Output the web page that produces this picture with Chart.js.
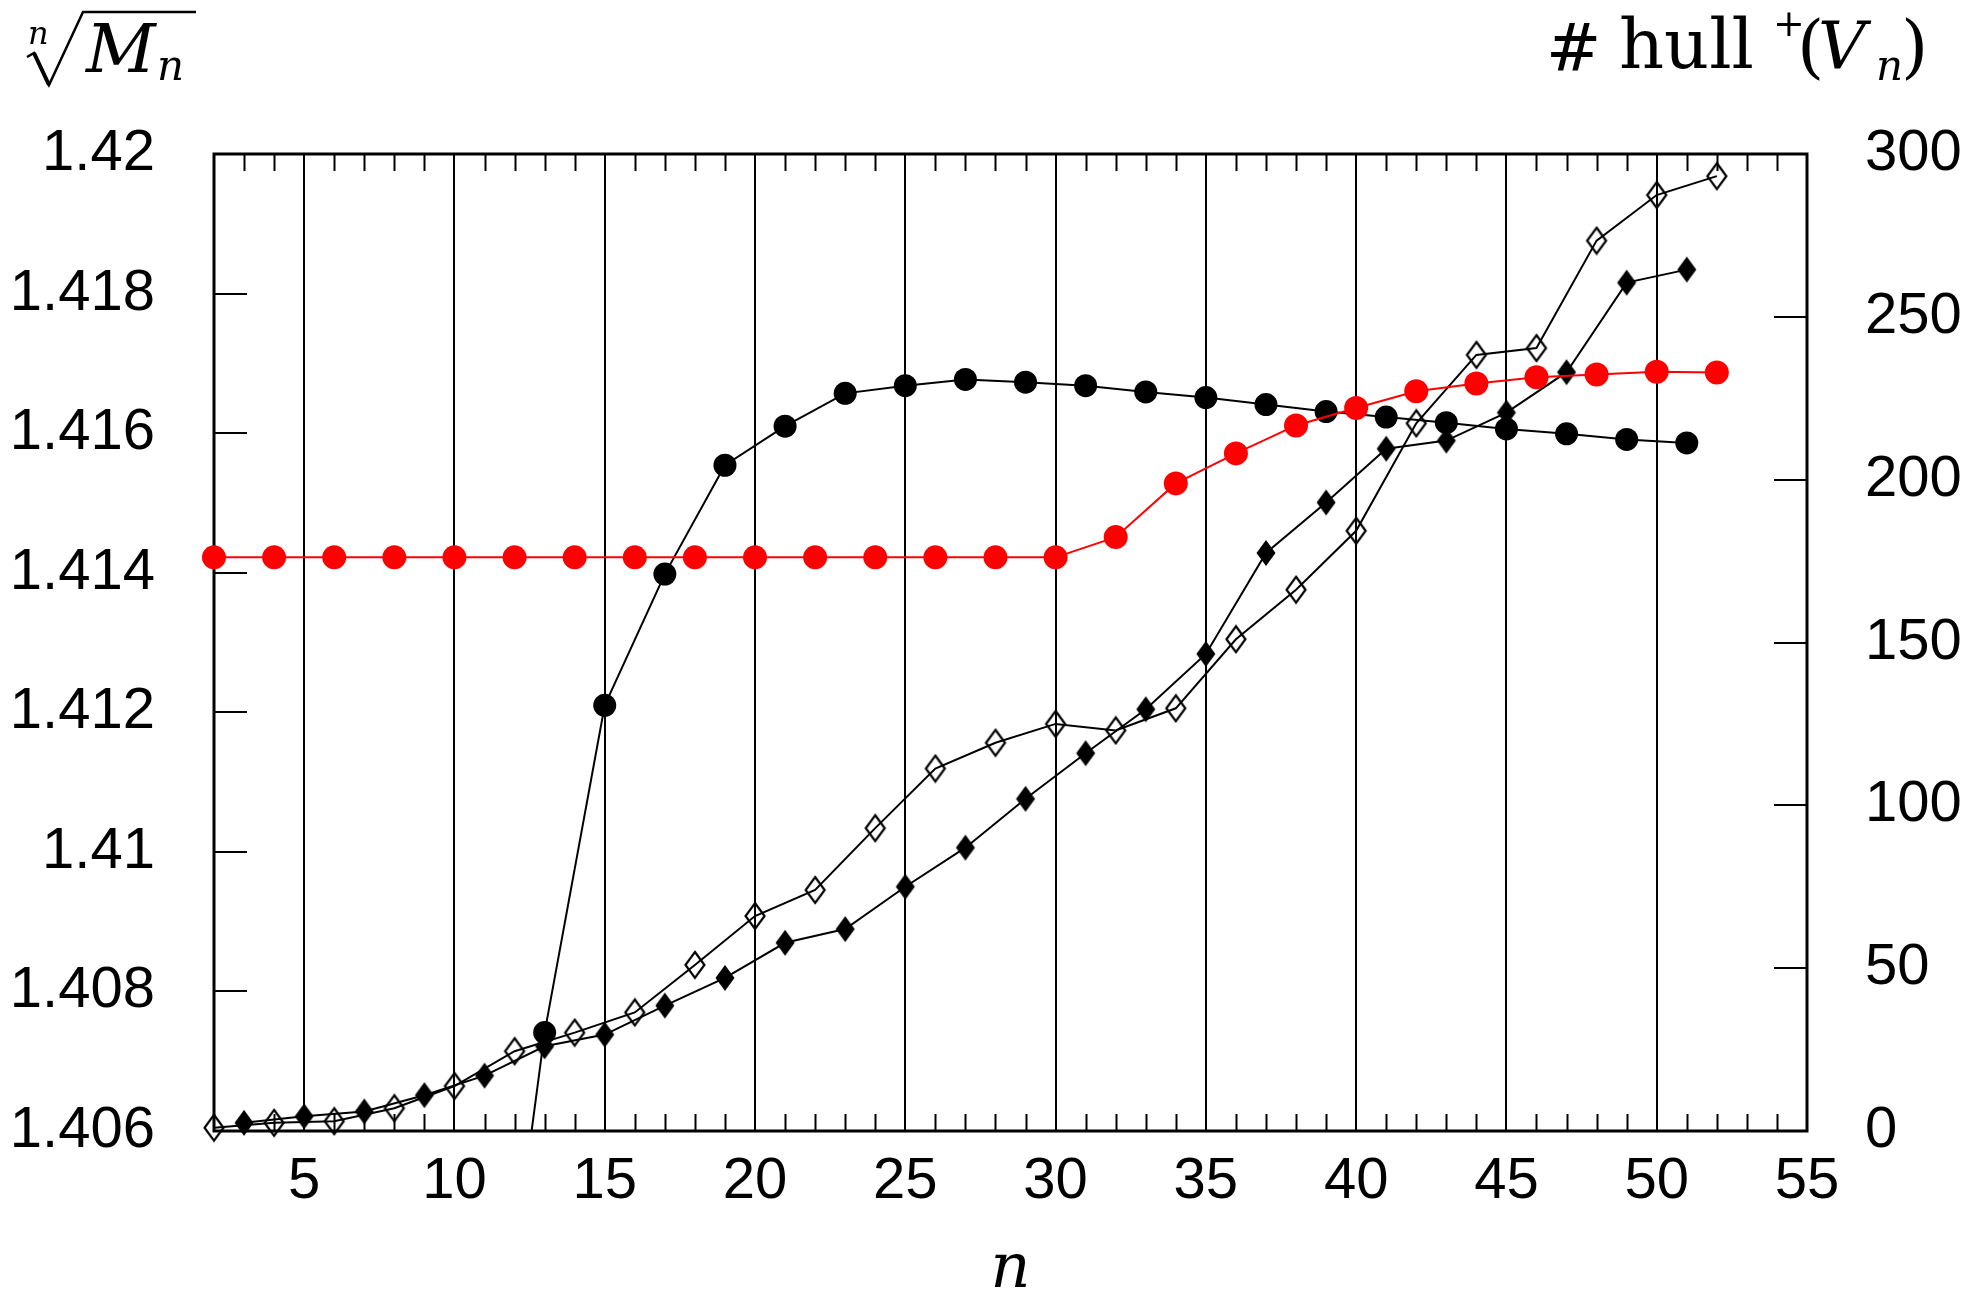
<!DOCTYPE html>
<html>
<head>
<meta charset="utf-8">
<script src="https://cdn.jsdelivr.net/npm/chart.js@4.4.0/dist/chart.umd.min.js"></script>
<style>
  html, body { margin: 0; padding: 0; background: #fff; }
  #wrap { width: 1977px; height: 1292px; }
</style>
</head>
<body>
<div id="wrap"><canvas id="chart" width="1977" height="1292"></canvas></div>
<script>
// n-th root of M_n (black circles, left axis); n = 11 lies below the axis and is clipped
const rootN = [11, 13, 15, 17, 19, 21, 23, 25, 27, 29, 31, 33, 35, 37, 39, 41, 43, 45, 47, 49, 51];
const rootMn = [1.4009, 1.40741, 1.41210, 1.41398, 1.41554, 1.41610, 1.41657, 1.41668, 1.41677, 1.41673,
                1.41668, 1.41659, 1.41651, 1.41641, 1.41631, 1.41623, 1.41615, 1.41606, 1.41599, 1.41591, 1.41586];

// red series (left axis)
const redN = [2, 4, 6, 8, 10, 12, 14, 16, 18, 20, 22, 24, 26, 28, 30, 32, 34, 36, 38, 40, 42, 44, 46, 48, 50, 52];
const redVals = [1.41422, 1.41422, 1.41422, 1.41422, 1.41422, 1.41422, 1.41422, 1.41422, 1.41422, 1.41422,
                 1.41422, 1.41422, 1.41422, 1.41422, 1.41422, 1.41451, 1.41528, 1.41571, 1.41611, 1.41636,
                 1.41660, 1.41671, 1.41680, 1.41684, 1.41688, 1.41687];

// #hull+(V_n), filled diamonds (right axis)
const hullOddN = [3, 5, 7, 9, 11, 13, 15, 17, 19, 21, 23, 25, 27, 29, 31, 33, 35, 37, 39, 41, 43, 45, 47, 49, 51];
const hullOdd = [2.5, 4.5, 6, 11, 17, 26, 29.6, 38.5, 47, 57.8, 62, 75, 87, 102, 116, 129.5, 146.5, 177.5, 193, 209.5, 212, 220.6, 233, 260.5, 264.5];

// #hull+(V_n), open diamonds (right axis)
const hullEvenN = [2, 4, 6, 8, 10, 12, 14, 16, 18, 20, 22, 24, 26, 28, 30, 32, 34, 36, 38, 40, 42, 44, 46, 48, 50, 52];
const hullEven = [1, 2.5, 3, 7, 13.8, 24.5, 30.2, 36.4, 51, 66, 74, 93, 111.3, 119.2, 125, 123, 129.8, 151, 166.2, 184.3, 217.3, 238.3, 240.4, 273.4, 287.4, 293.2];

const xTicks = [5, 10, 15, 20, 25, 30, 35, 40, 45, 50, 55];
const leftTicks = [1.406, 1.408, 1.41, 1.412, 1.414, 1.416, 1.418, 1.42];
const rightTicks = [0, 50, 100, 150, 200, 250, 300];

const tickFont = { family: 'Liberation Sans', size: 58 };
const serif = '"DejaVu Serif"';

function diamond(filled) {
  const c = document.createElement('canvas');
  c.width = 24; c.height = 30;
  const g = c.getContext('2d');
  g.beginPath();
  g.moveTo(12, 2); g.lineTo(21.5, 15); g.lineTo(12, 28); g.lineTo(2.5, 15); g.closePath();
  if (filled) { g.fillStyle = '#000'; g.fill(); }
  else { g.strokeStyle = '#000'; g.lineWidth = 2.2; g.stroke(); }
  return c;
}

const pts = (xs, ys) => xs.map((x, i) => ({ x: x, y: ys[i] }));

const framePlugin = {
  id: 'frame',
  beforeDatasetsDraw(chart) {
    const { ctx, chartArea: a, scales } = chart;
    ctx.save();
    ctx.strokeStyle = '#000';
    ctx.lineWidth = 2;
    ctx.beginPath();
    for (let n = 3; n < 55; n++) {
      if (n % 5 === 0) continue;
      const px = Math.round(scales.x.getPixelForValue(n)) + 0.5;
      ctx.moveTo(px, a.bottom); ctx.lineTo(px, a.bottom - 17);
      ctx.moveTo(px, a.top); ctx.lineTo(px, a.top + 17);
    }
    leftTicks.forEach(v => {
      const py = Math.round(scales.y.getPixelForValue(v));
      ctx.moveTo(a.left, py); ctx.lineTo(a.left + 33, py);
    });
    rightTicks.forEach(v => {
      const py = Math.round(scales.y1.getPixelForValue(v));
      ctx.moveTo(a.right, py); ctx.lineTo(a.right - 33, py);
    });
    ctx.stroke();
    ctx.lineWidth = 3;
    ctx.strokeRect(a.left, a.top, a.right - a.left, a.bottom - a.top);
    ctx.restore();
  },
  afterDraw(chart) {
    const { ctx, chartArea: a } = chart;
    ctx.save();
    ctx.fillStyle = '#000';
    ctx.strokeStyle = '#000';
    ctx.textBaseline = 'alphabetic';
    ctx.textAlign = 'left';

    // left title: n-th root of M_n
    ctx.font = 'italic 32px ' + serif;
    ctx.fillText('n', 28, 44);
    ctx.lineWidth = 2.5;
    ctx.beginPath();
    ctx.moveTo(27, 57); ctx.lineTo(34, 53); ctx.lineTo(49, 85);
    ctx.lineTo(83, 12); ctx.lineTo(196, 12);
    ctx.stroke();
    ctx.lineWidth = 4;
    ctx.beginPath();
    ctx.moveTo(34, 53); ctx.lineTo(49, 85);
    ctx.stroke();
    ctx.font = 'italic 68px ' + serif;
    ctx.fillText('M', 86, 72);
    ctx.font = 'italic 42px ' + serif;
    ctx.fillText('n', 157, 80);

    // right title: # hull+(V_n)
    ctx.font = '66px ' + serif;
    ctx.fillText('#', 1546, 70);
    ctx.font = '70px ' + serif;
    ctx.fillText('hull', 1619, 68);
    ctx.font = '38px ' + serif;
    ctx.fillText('+', 1773, 36);
    ctx.font = '70px ' + serif;
    ctx.fillText('(', 1797, 70);
    ctx.font = 'italic 66px ' + serif;
    ctx.fillText('V', 1818, 68);
    ctx.font = 'italic 42px ' + serif;
    ctx.fillText('n', 1876, 80);
    ctx.font = '70px ' + serif;
    ctx.fillText(')', 1901, 70);

    // x axis title
    ctx.textAlign = 'center';
    ctx.font = 'italic 62px ' + serif;
    ctx.fillText('n', (a.left + a.right) / 2, 1287);
    ctx.restore();
  }
};

new Chart(document.getElementById('chart'), {
  type: 'line',
  data: {
    datasets: [
      {
        data: pts(redN, redVals), yAxisID: 'y', order: 0,
        borderColor: '#ff0000', backgroundColor: '#ff0000', borderWidth: 2,
        pointRadius: 12, pointBorderWidth: 0, clip: false
      },
      {
        data: pts(rootN, rootMn), yAxisID: 'y', order: 1,
        borderColor: '#000', backgroundColor: '#000', borderWidth: 2,
        pointRadius: 11.5, pointBorderWidth: 0, clip: { left: 20, top: 20, right: 20, bottom: 0 }
      },
      {
        data: pts(hullOddN, hullOdd), yAxisID: 'y1', order: 2,
        borderColor: '#000', borderWidth: 2,
        pointStyle: diamond(true), pointRadius: 10, clip: false
      },
      {
        data: pts(hullEvenN, hullEven), yAxisID: 'y1', order: 3,
        borderColor: '#000', borderWidth: 2,
        pointStyle: diamond(false), pointRadius: 10, clip: false
      }
    ]
  },
  options: {
    responsive: false,
    animation: false,
    devicePixelRatio: 1,
    layout: { padding: { top: 154, left: 0, right: 0, bottom: 0 } },
    plugins: { legend: { display: false }, tooltip: { enabled: false } },
    scales: {
      x: {
        type: 'linear', min: 2, max: 55,
        afterBuildTicks: s => { s.ticks = xTicks.map(v => ({ value: v })); },
        afterFit: s => { s.height = 161; },
        grid: { color: '#000', lineWidth: 2, drawTicks: false },
        border: { display: false },
        ticks: { font: tickFont, color: '#000', padding: 16, maxRotation: 0, autoSkip: false }
      },
      y: {
        position: 'left', min: 1.406, max: 1.42,
        afterBuildTicks: s => { s.ticks = leftTicks.map(v => ({ value: v })); },
        afterFit: s => { s.width = 214; },
        grid: { display: false, drawTicks: false },
        border: { display: false },
        ticks: { font: tickFont, color: '#000', padding: 59, callback: v => String(+v.toFixed(3)) }
      },
      y1: {
        position: 'right', min: 0, max: 300,
        afterBuildTicks: s => { s.ticks = rightTicks.map(v => ({ value: v })); },
        afterFit: s => { s.width = 170; },
        grid: { display: false, drawTicks: false },
        border: { display: false },
        ticks: { font: tickFont, color: '#000', padding: 58 }
      }
    }
  },
  plugins: [framePlugin]
});
</script>
</body>
</html>
